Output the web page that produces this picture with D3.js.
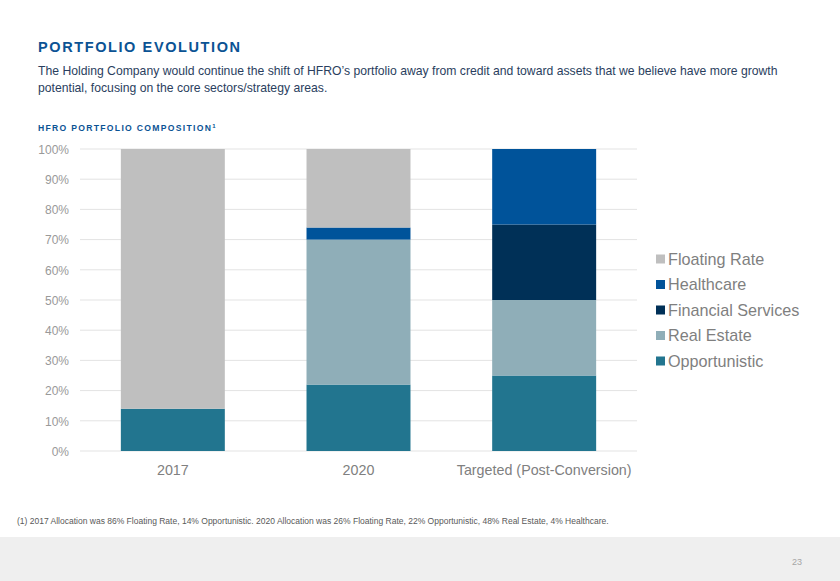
<!DOCTYPE html>
<html><head><meta charset="utf-8">
<script src="https://cdn.jsdelivr.net/npm/d3@7"></script>
<style>
body{margin:0;background:#fff;}
svg{display:block;}
</style></head>
<body>
<svg id="chart" width="840" height="581"></svg>
<script>
const categories = ["2017", "2020", "Targeted (Post-Conversion)"];
const seriesNames = ["Opportunistic", "Real Estate", "Financial Services", "Healthcare", "Floating Rate"];
const opportunistic = [14, 22, 25];
const realEstate = [0, 48, 25];
const financialServices = [0, 0, 25];
const healthcare = [0, 4, 25];
const floatingRate = [86, 26, 0];
const yTicks = [0, 10, 20, 30, 40, 50, 60, 70, 80, 90, 100];
const legendOrder = ["Floating Rate", "Healthcare", "Financial Services", "Real Estate", "Opportunistic"];
const colors = {"Floating Rate":"#BFBFBF","Healthcare":"#00539A","Financial Services":"#003057","Real Estate":"#8FAEB8","Opportunistic":"#22758F"};

const valuesBySeries = {
  "Opportunistic": opportunistic, "Real Estate": realEstate,
  "Financial Services": financialServices, "Healthcare": healthcare, "Floating Rate": floatingRate
};
const table = categories.map((c, i) => {
  const row = {category: c};
  seriesNames.forEach(s => row[s] = valuesBySeries[s][i]);
  return row;
});

const svg = d3.select("#chart");
const font2 = "'Liberation Sans', Arial, sans-serif";

// Title
svg.append("text").attr("x", 38).attr("y", 52)
  .attr("font-family", font2).attr("font-weight", "bold").attr("font-size", 14.5)
  .attr("letter-spacing", 1.6).attr("fill", "#0B5394").text("PORTFOLIO EVOLUTION");
svg.append("text").attr("x", 38).attr("y", 75)
  .attr("font-family", font2).attr("font-size", 12.2).attr("fill", "#2A3E5E")
  .text("The Holding Company would continue the shift of HFRO\u2019s portfolio away from credit and toward assets that we believe have more growth");
svg.append("text").attr("x", 38).attr("y", 92)
  .attr("font-family", font2).attr("font-size", 12.2).attr("fill", "#2A3E5E")
  .text("potential, focusing on the core sectors/strategy areas.");
const sub = svg.append("text").attr("x", 38).attr("y", 131)
  .attr("font-family", font2).attr("font-weight", "bold").attr("font-size", 8.6)
  .attr("letter-spacing", 1.3).attr("fill", "#0B5394").text("HFRO PORTFOLIO COMPOSITION");
sub.append("tspan").attr("font-size", 6).attr("dy", -3).text("1");

// Scales
const x = d3.scaleBand().domain(categories).range([80, 637]).paddingInner(0.44).paddingOuter(0.22);
const y = d3.scaleLinear().domain([0, 100]).range([451, 149]);

// Grid
svg.append("g").selectAll("line").data(yTicks).join("line")
  .attr("x1", 80).attr("x2", 637)
  .attr("y1", d => y(d)).attr("y2", d => y(d))
  .attr("stroke", "#E3E3E3").attr("stroke-width", 1);

// Y axis labels
const yAxis = d3.axisLeft(y).tickValues(yTicks).tickFormat(d => d + "%").tickSize(0).tickPadding(0);
const ya = svg.append("g").attr("transform", "translate(69,0)").call(yAxis);
ya.select(".domain").remove();
ya.selectAll("text").attr("font-family", font2).attr("font-size", 12).attr("fill", "#999999").attr("dy", "0.35em");

// Stacked bars
const stack = d3.stack().keys(seriesNames);
const stacked = stack(table);
svg.append("g").selectAll("g").data(stacked).join("g")
  .attr("fill", d => colors[d.key])
  .selectAll("rect").data(d => d).join("rect")
  .attr("x", d => x(d.data.category))
  .attr("width", x.bandwidth())
  .attr("y", d => y(d[1]))
  .attr("height", d => y(d[0]) - y(d[1]));

// X axis labels
const xAxis = d3.axisBottom(x).tickSize(0).tickPadding(0);
const xa = svg.append("g").attr("transform", "translate(0,462)").call(xAxis);
xa.select(".domain").remove();
xa.selectAll("text").attr("font-family", font2).attr("font-size", 14.3).attr("fill", "#808080").attr("dy", "0.9em");

// Legend
const lg = svg.append("g").selectAll("g").data(legendOrder).join("g")
  .attr("transform", (d, i) => `translate(656, ${259 + i * 25.5})`);
lg.append("rect").attr("x", 0).attr("y", -4.5).attr("width", 9).attr("height", 9).attr("fill", d => colors[d]);
lg.append("text").attr("x", 12).attr("y", 0).attr("dy", "0.35em")
  .attr("font-family", font2).attr("font-size", 16.2).attr("fill", "#7F7F7F").text(d => d);

// Footnote
svg.append("text").attr("x", 17).attr("y", 524)
  .attr("font-family", font2).attr("font-size", 8.5).attr("fill", "#595959")
  .text("(1) 2017  Allocation was 86% Floating Rate, 14% Opportunistic. 2020 Allocation was 26% Floating Rate, 22% Opportunistic, 48% Real Estate, 4% Healthcare.");

// Footer band
svg.append("rect").attr("x", 0).attr("y", 537).attr("width", 840).attr("height", 44).attr("fill", "#EFEFEF");
svg.append("text").attr("x", 802).attr("y", 565).attr("text-anchor", "end")
  .attr("font-family", font2).attr("font-size", 9).attr("fill", "#A6A6A6").text("23");
</script>
</body></html>
